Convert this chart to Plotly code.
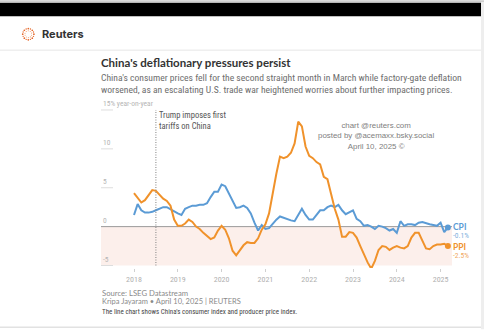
import plotly.graph_objects as go
import math

# ---- data (YoY %, monthly Jan 2018 - Mar 2025) ----
cpi = [1.5, 2.9, 2.1, 1.8, 1.8, 1.9, 2.1, 2.3, 2.5, 2.5, 2.2, 1.9,
       1.7, 1.5, 2.3, 2.5, 2.7, 2.7, 2.8, 2.8, 3.0, 3.8, 4.5, 4.5,
       5.4, 5.2, 4.3, 3.3, 2.4, 2.5, 2.7, 2.4, 1.7, 0.5, -0.5, 0.2,
       -0.3, -0.2, 0.4, 0.9, 1.3, 1.1, 1.0, 0.8, 0.7, 1.5, 2.3, 1.5,
       0.9, 0.9, 1.5, 2.1, 2.1, 2.5, 2.7, 2.5, 2.8, 2.1, 1.6, 1.8,
       2.1, 1.0, 0.7, 0.1, 0.2, 0.0, -0.3, 0.1, 0.0, -0.2, -0.5, -0.3,
       -0.8, 0.7, 0.1, 0.3, 0.3, 0.2, 0.5, 0.6, 0.4, 0.3, 0.2, 0.1,
       0.5, -0.7, -0.1]
ppi = [4.3, 3.7, 3.1, 3.4, 4.1, 4.7, 4.6, 4.1, 3.6, 3.3, 2.7, 0.9,
       0.1, 0.1, 0.4, 0.9, 0.6, 0.0, -0.3, -0.8, -1.2, -1.6, -1.4, -0.5,
       0.1, -0.4, -1.5, -3.1, -3.7, -3.0, -2.4, -2.0, -2.1, -2.1, -1.5, -0.4,
       0.3, 1.7, 4.4, 6.8, 9.0, 8.8, 9.0, 9.5, 10.7, 13.5, 12.9, 10.3,
       9.1, 8.8, 8.3, 8.0, 6.4, 6.1, 4.2, 2.3, 0.9, -1.3, -1.3, -0.7,
       -0.8, -1.4, -2.5, -3.6, -4.6, -5.4, -4.4, -3.0, -2.5, -2.6, -3.0, -2.7,
       -2.5, -2.7, -2.8, -2.5, -1.4, -0.8, -0.8, -1.8, -2.8, -2.9, -2.5, -2.3,
       -2.3, -2.2, -2.5]
start_year = 2018
x = [start_year + i / 12 for i in range(len(cpi))]
year_ticks = [2018, 2019, 2020, 2021, 2022, 2023, 2024, 2025]
y_ticks = [15, 10, 5, 0, -5]
y_tick_labels = ["15% year-on-year", "10", "5", "0", "-5"]
tariff_date = 2018.5

CPI_C = "#5b9bd5"
PPI_C = "#f0922b"
NARROW = "Liberation Sans Narrow, Arial Narrow, Roboto Condensed, Lato"

# plot box in pixels
L, R, T, B = 101, 452, 100, 268.5
W, H = 484, 330

def px(xp):
    return (xp - L) / (R - L)

def py(yp):
    return (B - yp) / (B - T)

fig = go.Figure()
fig.add_trace(go.Scatter(x=x, y=cpi, mode="lines", line=dict(color=CPI_C, width=2),
                         hoverinfo="skip", showlegend=False))
fig.add_trace(go.Scatter(x=x, y=ppi, mode="lines", line=dict(color=PPI_C, width=2),
                         hoverinfo="skip", showlegend=False))
fig.add_trace(go.Scatter(x=[x[-1]], y=[cpi[-1]], mode="markers",
                         marker=dict(color=CPI_C, size=6), showlegend=False, hoverinfo="skip"))
fig.add_trace(go.Scatter(x=[x[-1]], y=[ppi[-1]], mode="markers",
                         marker=dict(color=PPI_C, size=6), showlegend=False, hoverinfo="skip"))

shapes = []
# pink negative band
shapes.append(dict(type="rect", xref="paper", yref="y", x0=0, x1=1, y0=-5, y1=0,
                   fillcolor="#fcefeb", line=dict(width=0), layer="below"))
# zero line
shapes.append(dict(type="line", xref="paper", yref="y", x0=0, x1=1, y0=0, y1=0,
                   line=dict(color="#9a9a9a", width=1), layer="below"))
# grid stubs
for v in y_ticks:
    if v != 0:
        shapes.append(dict(type="line", xref="paper", yref="y", x0=0, x1=px(113), y0=v, y1=v,
                           line=dict(color="#dddddd", width=1), layer="below"))
# tariff line
shapes.append(dict(type="line", xref="x", yref="y", x0=tariff_date, x1=tariff_date, y0=-5, y1=15,
                   line=dict(color="#808080", width=1, dash="1px,1.5px")))
# frame: black top bar, borders, separators
shapes.append(dict(type="rect", xref="paper", yref="paper", x0=px(0), x1=px(W), y0=py(2), y1=py(0),
                   fillcolor="#cfcfcf", line=dict(width=0)))
shapes.append(dict(type="rect", xref="paper", yref="paper", x0=px(0), x1=px(481), y0=py(16), y1=py(2.5),
                   fillcolor="#000000", line=dict(width=0)))
shapes.append(dict(type="rect", xref="paper", yref="paper", x0=px(481), x1=px(W), y0=py(330), y1=py(2),
                   fillcolor="#eeeeee", line=dict(width=0)))
shapes.append(dict(type="line", xref="paper", yref="paper", x0=px(0), x1=px(481), y0=py(50), y1=py(50),
                   line=dict(color="#e6e6e6", width=1)))
shapes.append(dict(type="line", xref="paper", yref="paper", x0=px(0), x1=px(481), y0=py(328), y1=py(328),
                   line=dict(color="#e2e2e2", width=1.5)))
# Reuters logo ring of dots
cx, cy, rr = 28.3, 34, 5.6
for k in range(16):
    a = 2 * math.pi * k / 16
    dx, dy = cx + rr * math.cos(a), cy + rr * math.sin(a)
    s = 0.85 if k % 2 == 0 else 0.7
    shapes.append(dict(type="circle", xref="paper", yref="paper",
                       x0=px(dx - s), x1=px(dx + s), y0=py(dy + s), y1=py(dy - s),
                       fillcolor="#e5672a", line=dict(width=0)))
for k in range(10):
    a = 2 * math.pi * k / 10 + 0.3
    dx, dy = cx + 3.4 * math.cos(a), cy + 3.4 * math.sin(a)
    shapes.append(dict(type="circle", xref="paper", yref="paper",
                       x0=px(dx - 0.55), x1=px(dx + 0.55), y0=py(dy + 0.55), y1=py(dy - 0.55),
                       fillcolor="#f0a070", line=dict(width=0)))

ann = []
def txt(t, xp, yp, size, color, family="Lato", bold=False, xanchor="left", align="left"):
    ann.append(dict(text=("<b>%s</b>" % t) if bold else t, xref="paper", yref="paper",
                    x=px(xp), y=py(yp), xanchor=xanchor, yanchor="middle", showarrow=False,
                    align=align, font=dict(size=size, color=color, family=family)))

txt("Reuters", 40, 34, 11, "#333333", family="Inter", bold=True)
txt("China's deflationary pressures persist", 99, 62, 11.5, "#333333", family="Lato", bold=True)
txt("China's consumer prices fell for the second straight month in March while factory-gate deflation",
    99, 77, 9.6, "#6e6e6e", family=NARROW)
txt("worsened, as an escalating U.S. trade war heightened worries about further impacting prices.",
    99, 89, 9.6, "#6e6e6e", family=NARROW)
for v, lab in zip(y_ticks, y_tick_labels):
    ann.append(dict(text=lab, xref="paper", yref="y", x=0, y=v, xanchor="left", yanchor="bottom",
                    yshift=0, showarrow=False, font=dict(size=7.5, color="#b5b5b5", family=NARROW)))
ann.append(dict(text="Trump imposes first<br>tariffs on China", xref="x", yref="paper",
                x=tariff_date, y=py(108), xanchor="left", yanchor="top", xshift=1, showarrow=False,
                align="left", font=dict(size=8.5, color="#555555", family=NARROW)))
txt("chart @reuters.com<br>posted by @acemaxx.bsky.social<br>April 10, 2025 ©", 376, 136, 7.9,
    "#808080", family="Liberation Sans", xanchor="center", align="center")
ann.append(dict(text="<b>CPI</b>", xref="paper", yref="y", x=px(451), y=cpi[-1], xanchor="left",
                yanchor="middle", yshift=0, showarrow=False, font=dict(size=8.5, color=CPI_C, family="Lato")))
ann.append(dict(text="-0.1%", xref="paper", yref="y", x=px(451), y=cpi[-1], xanchor="left",
                yanchor="middle", yshift=-8, showarrow=False, font=dict(size=7.5, color="#7fb0dc", family=NARROW)))
ann.append(dict(text="<b>PPI</b>", xref="paper", yref="y", x=px(451), y=ppi[-1], xanchor="left",
                yanchor="middle", yshift=-1, showarrow=False, font=dict(size=8.5, color=PPI_C, family="Lato")))
ann.append(dict(text="-2.5%", xref="paper", yref="y", x=px(451), y=ppi[-1], xanchor="left",
                yanchor="middle", yshift=-9.5, showarrow=False, font=dict(size=7.5, color="#f0a860", family=NARROW)))
txt("Source: LSEG Datastream", 100, 294, 7.7, "#8a8a8a", family="Lato")
txt("Kripa Jayaram • April 10, 2025 | REUTERS", 100, 302.5, 7.5, "#8a8a8a", family="Lato")
txt("The line chart shows China's consumer index and producer price index.", 100, 313, 7.0, "#444444",
    family=NARROW)

x0 = start_year - (134 - L) / 43.8
x1 = x0 + (R - L) / 43.8
fig.update_layout(
    width=W, height=H, margin=dict(l=L, r=W - R, t=T, b=H - B),
    paper_bgcolor="white", plot_bgcolor="white",
    shapes=shapes, annotations=ann, showlegend=False,
    xaxis=dict(range=[x0, x1], tickvals=year_ticks, ticktext=[str(v) for v in year_ticks],
               showgrid=False, zeroline=False, showline=False, ticks="outside", ticklen=3,
               tickcolor="#d0d0d0", tickfont=dict(size=8, color="#b0b0b0", family=NARROW)),
    yaxis=dict(range=[-(B - 227) / 7.8, (227 - T) / 7.8], showgrid=False, zeroline=False,
               showticklabels=False, showline=False),
)
fig.write_html("out.html")
